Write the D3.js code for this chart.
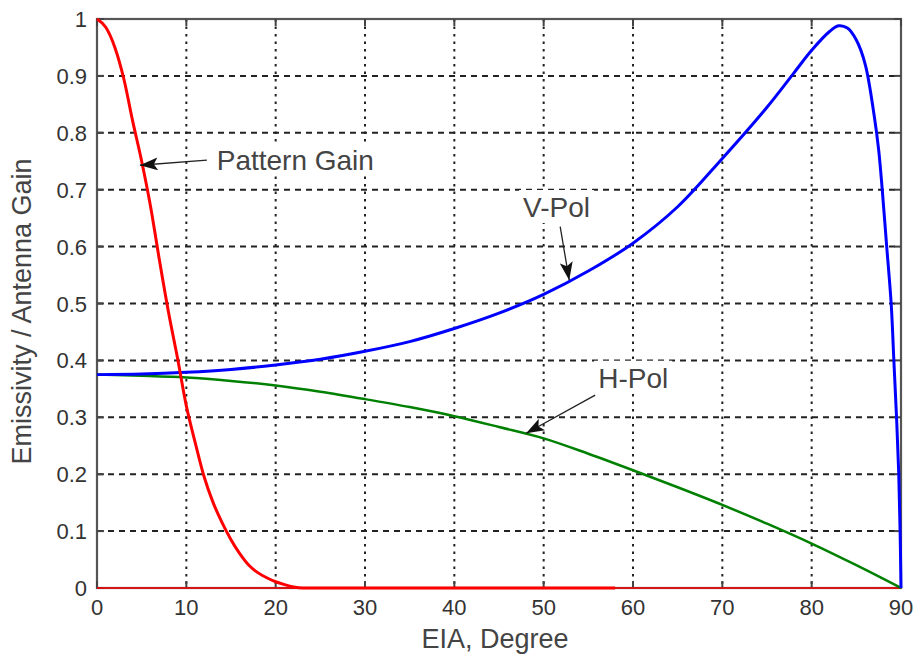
<!DOCTYPE html>
<html lang="en">
  <head>
    <meta charset="UTF-8" />
    <title>Emissivity / Antenna Gain vs EIA</title>
    <script src="https://d3js.org/d3.v7.min.js"></script>
    <style>
      body {
        margin: 0;
        background: #fff;
      }
      text {
        font-family: "Liberation Sans", Arial, sans-serif;
        fill: #333;
      }
    </style>
  </head>
  <body>
    <div id="chart"></div>
    <script>
      // values
      const xTicks = [0, 10, 20, 30, 40, 50, 60, 70, 80, 90];
      const yTicks = [0, 0.1, 0.2, 0.3, 0.4, 0.5, 0.6, 0.7, 0.8, 0.9, 1];

      const patternX = [0, 1, 2, 3, 4, 5, 6, 7, 8, 9, 10, 11, 12, 13, 14, 15,
        16, 17, 18, 19, 20, 21, 22, 23, 58];
      const patternGain = [1.0, 0.985, 0.95, 0.895, 0.82, 0.75, 0.67, 0.575,
        0.485, 0.405, 0.32, 0.255, 0.195, 0.15, 0.115, 0.085, 0.06, 0.04,
        0.027, 0.018, 0.011, 0.006, 0.002, 0, 0];

      const vpolX = [0, 5, 10, 15, 20, 25, 30, 35, 40, 45, 50, 55, 60, 65, 70,
        75, 78, 80, 82, 83, 84, 85, 86, 87, 87.5, 87.9, 88.4, 88.9, 89.2, 89.5,
        89.75, 89.9, 90];
      const vpol = [0.375, 0.376, 0.379, 0.384, 0.392, 0.402, 0.416, 0.433,
        0.456, 0.483, 0.516, 0.557, 0.606, 0.67, 0.755, 0.845, 0.905, 0.945,
        0.978, 0.988, 0.984, 0.963, 0.92, 0.83, 0.77, 0.7, 0.6, 0.5, 0.4, 0.3,
        0.2, 0.1, 0];

      const hpolX = [0, 5, 10, 15, 20, 25, 30, 35, 40, 45, 50, 55, 60, 65, 70,
        75, 80, 85, 90];
      const hpol = [0.375, 0.373, 0.37, 0.364, 0.356, 0.345, 0.332, 0.318,
        0.302, 0.283, 0.263, 0.236, 0.207, 0.177, 0.146, 0.113, 0.078, 0.04, 0];

      // annotation: label anchor and arrow tail/tip in data units
      const notes = [
        { text: "Pattern Gain", tx: 13.4, ty: 0.735, x1: 12.3, y1: 0.752, x2: 4.8, y2: 0.743 },
        { text: "V-Pol", tx: 47.7, ty: 0.652, x1: 51.85, y1: 0.635, x2: 52.86, y2: 0.541 },
        { text: "H-Pol", tx: 56.1, ty: 0.352, x1: 55.77, y1: 0.339, x2: 48.04, y2: 0.272 },
      ];

      const margin = { top: 19, right: 16, bottom: 70, left: 97 };
      const width = 917 - margin.left - margin.right;
      const height = 658 - margin.top - margin.bottom;

      const svg = d3
        .select("#chart")
        .append("svg")
        .attr("width", 917)
        .attr("height", 658);

      const g = svg
        .append("g")
        .attr("transform", `translate(${margin.left},${margin.top})`);

      const x = d3.scaleLinear().domain([0, 90]).range([0, width]);
      const y = d3.scaleLinear().domain([0, 1]).range([height, 0]);

      // grid
      g.selectAll("line.hgrid")
        .data(yTicks)
        .enter()
        .append("line")
        .attr("class", "hgrid")
        .attr("x1", 0)
        .attr("x2", width)
        .attr("y1", (d) => y(d))
        .attr("y2", (d) => y(d))
        .attr("stroke", "#222")
        .attr("stroke-width", 2)
        .attr("stroke-dasharray", "6,5");

      g.selectAll("line.vgrid")
        .data(xTicks)
        .enter()
        .append("line")
        .attr("class", "vgrid")
        .attr("x1", (d) => x(d))
        .attr("x2", (d) => x(d))
        .attr("y1", 0)
        .attr("y2", height)
        .attr("stroke", "#222")
        .attr("stroke-width", 2)
        .attr("stroke-dasharray", "2.5,5");

      // white boxes behind labels
      const noteG = g.append("g");
      notes.forEach((n) => {
        const t = noteG
          .append("text")
          .attr("x", x(n.tx))
          .attr("y", y(n.ty))
          .style("font-size", "28px")
          .style("fill", "#444")
          .text(n.text);
        const bb = t.node().getBBox();
        noteG
          .insert("rect", "text")
          .attr("x", bb.x - 4)
          .attr("y", bb.y - 2)
          .attr("width", bb.width + 8)
          .attr("height", bb.height + 2)
          .attr("fill", "#fff");
      });

      // frame and inward ticks
      g.append("rect")
        .attr("width", width)
        .attr("height", height)
        .attr("fill", "none")
        .attr("stroke", "#555")
        .attr("stroke-width", 2.2);

      const tickLen = 7;
      const tickG = g.append("g").attr("stroke", "#444").attr("stroke-width", 2);
      xTicks.forEach((d) => {
        tickG.append("line").attr("x1", x(d)).attr("x2", x(d)).attr("y1", height).attr("y2", height - tickLen);
        tickG.append("line").attr("x1", x(d)).attr("x2", x(d)).attr("y1", 0).attr("y2", tickLen);
      });
      yTicks.forEach((d) => {
        tickG.append("line").attr("x1", 0).attr("x2", tickLen).attr("y1", y(d)).attr("y2", y(d));
        tickG.append("line").attr("x1", width).attr("x2", width - tickLen).attr("y1", y(d)).attr("y2", y(d));
      });

      // tick labels
      g.selectAll("text.xtick")
        .data(xTicks)
        .enter()
        .append("text")
        .attr("class", "xtick")
        .attr("x", (d) => x(d))
        .attr("y", height + 27)
        .attr("text-anchor", "middle")
        .style("font-size", "22px")
        .text((d) => d);

      g.selectAll("text.ytick")
        .data(yTicks)
        .enter()
        .append("text")
        .attr("class", "ytick")
        .attr("x", -10)
        .attr("y", (d) => y(d) + 8)
        .attr("text-anchor", "end")
        .style("font-size", "22px")
        .text((d) => d);

      // axis titles
      g.append("text")
        .attr("x", x(45) - 4)
        .attr("y", height + 60)
        .attr("text-anchor", "middle")
        .style("font-size", "27px")
        .style("fill", "#444")
        .text("EIA, Degree");

      g.append("text")
        .attr("transform", `translate(${-margin.left + 31},${height / 2 + 8}) rotate(-90)`)
        .attr("text-anchor", "middle")
        .style("font-size", "27px")
        .style("fill", "#444")
        .text("Emissivity / Antenna Gain");

      // curves
      const line = d3
        .line()
        .x((d) => x(d[0]))
        .y((d) => y(d[1]));

      g.append("path")
        .datum([[0, 0], [90, 0]])
        .attr("fill", "none")
        .attr("stroke", "#ff0000")
        .attr("stroke-width", 1.5)
        .attr("d", line);

      g.append("path")
        .datum(hpolX.map((d, i) => [d, hpol[i]]))
        .attr("fill", "none")
        .attr("stroke", "#008000")
        .attr("stroke-width", 2.5)
        .attr("d", line.curve(d3.curveMonotoneX));

      g.append("path")
        .datum(vpolX.map((d, i) => [d, vpol[i]]))
        .attr("fill", "none")
        .attr("stroke", "#0000ff")
        .attr("stroke-width", 3)
        .attr("d", line.curve(d3.curveCatmullRom));

      g.append("path")
        .datum(patternX.map((d, i) => [d, patternGain[i]]))
        .attr("fill", "none")
        .attr("stroke", "#ff0000")
        .attr("stroke-width", 3)
        .attr("d", line.curve(d3.curveMonotoneX));

      // arrows
      svg
        .append("defs")
        .append("marker")
        .attr("id", "head")
        .attr("viewBox", "0 0 18 13")
        .attr("refX", 18)
        .attr("refY", 6.5)
        .attr("markerUnits", "userSpaceOnUse")
        .attr("markerWidth", 18)
        .attr("markerHeight", 13)
        .attr("orient", "auto")
        .append("path")
        .attr("d", "M0,0 L18,6.5 L0,13 L4,6.5 Z")
        .attr("fill", "#111");

      g.selectAll("line.arrow")
        .data(notes)
        .enter()
        .append("line")
        .attr("class", "arrow")
        .attr("x1", (d) => x(d.x1))
        .attr("y1", (d) => y(d.y1))
        .attr("x2", (d) => x(d.x2))
        .attr("y2", (d) => y(d.y2))
        .attr("stroke", "#222")
        .attr("stroke-width", 1.3)
        .attr("marker-end", "url(#head)");
    </script>
  </body>
</html>
